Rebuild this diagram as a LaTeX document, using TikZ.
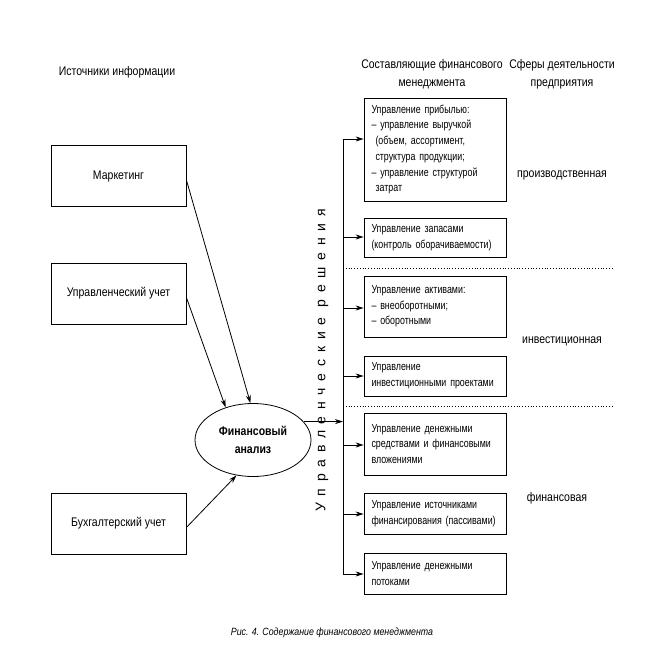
\documentclass[tikz,border=0pt]{standalone}
\usepackage{fontspec}
\setmainfont{Liberation Sans}[FakeStretch=0.84]
\newfontfamily\boxface{Liberation Sans}[FakeStretch=0.77]
\newfontfamily\wideface{Liberation Sans}[LetterSpace=48]
\usetikzlibrary{arrows.meta,positioning,shapes.geometric}

\begin{document}
\begin{tikzpicture}[
  x=1pt, y=-1pt,
  line width=0.8pt,
  arr/.style={-{Stealth[length=8pt,width=5pt]}},
  head/.style={align=center, font=\fontsize{12.5}{18}\selectfont},
  src/.style={draw, minimum width=135pt, minimum height=61pt, align=center,
              font=\fontsize{12.5}{15}\selectfont},
  part/.style={draw, minimum width=142pt, text width=127pt, inner xsep=7.5pt,
               align=left, font=\boxface\fontsize{11.5}{15.7}\selectfont},
  area/.style={font=\fontsize{12.5}{15}\selectfont}
]
  \useasboundingbox (0,0) rectangle (670,659);

  % headers
  \node[head] (hsrc) at (117,72) {Источники информации};
  \node[head] (hpart) at (432,74) {Составляющие финансового\\менеджмента};
  \node[head] (harea) at (562,74) {Сферы деятельности\\предприятия};

  % sources
  \node[src] (mk) at (118.5,176) {Маркетинг};
  \node[src] (mu) at (118.5,293.5) {Управленческий учет};
  \node[src] (bu) at (118.5,523.5) {Бухгалтерский учет};

  \node[draw, ellipse, minimum width=116pt, minimum height=73pt, inner sep=0pt,
        align=center, font=\bfseries\fontsize{12.5}{18}\selectfont] (fa) at (253,440)
        {Финансовый\\анализ};

  \draw[arr] (mk.east) ++(0,4) -- (fa.94);
  \draw[arr] (mu.east) ++(0,4) -- (fa.130);
  \draw[arr] (bu.east) ++(0,4) -- (fa.245);

  % decisions
  \node[rotate=90, font=\wideface\fontsize{14}{14}\selectfont] (ur) at (322,360)
        {Управленческие решения};

  \coordinate (bustop) at (343,139);
  \coordinate (busbot) at (343,574);
  \draw (bustop) -- (busbot);
  \draw[arr] (fa.20) -- (fa.20 -| bustop);

  % components
  \node[part, minimum height=103pt] (b1) at (435,149.5)
    {Управление прибылью:\\
     – управление выручкой\\
     \hspace*{4pt}(объем, ассортимент,\\
     \hspace*{4pt}структура продукции;\\
     – управление структурой\\
     \hspace*{4pt}затрат};
  \node[part, minimum height=39pt] (b2) at (435,237.5)
    {Управление запасами\\(контроль оборачиваемости)};
  \node[part, minimum height=61pt] (b3) at (435,306.5)
    {Управление активами:\\– внеоборотными;\\– оборотными};
  \node[part, minimum height=40pt] (b4) at (435,376)
    {Управление\\инвестиционными проектами};
  \node[part, minimum height=62pt] (b5) at (435,444)
    {Управление денежными\\средствами и финансовыми\\вложениями};
  \node[part, minimum height=41pt] (b6) at (435,513.5)
    {Управление источниками\\финансирования (пассивами)};
  \node[part, minimum height=41pt] (b7) at (435,573.5)
    {Управление денежными\\потоками};

  \foreach \b/\y in {b1/139, b2/237, b3/308, b4/376, b5/445, b6/514, b7/574} {
    \coordinate (t\b) at (343,\y);
    \draw[arr] (t\b) -- (t\b -| \b.west);
  }

  % separators
  \draw[dotted] (343,268) -- (612,268);
  \draw[dotted] (343,406) -- (612,406);

  % areas
  \node[area] (ap) at (562,175) {производственная};
  \node[area] (ai) at (562,341) {инвестиционная};
  \node[area] (af) at (557,498) {финансовая};

  \node[font=\itshape\fontsize{10.5}{12}\selectfont] (cap) at (332,633)
    {Рис. 4. Содержание финансового менеджмента};
\end{tikzpicture}
\end{document}
